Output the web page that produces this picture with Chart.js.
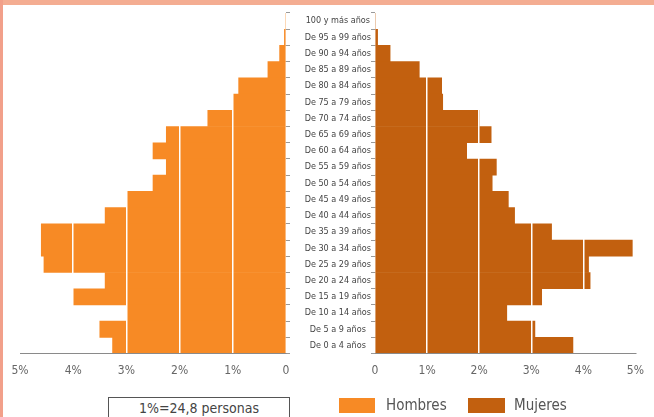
<!DOCTYPE html>
<html lang="es">
<head>
<meta charset="utf-8">
<title>Pirámide de población</title>
<script src="https://cdn.jsdelivr.net/npm/chart.js@4/dist/chart.umd.min.js"></script>
<style>
    body { margin: 0; width: 654px; height: 417px; background: #fff; position: relative; overflow: hidden; font-family: 'Liberation Sans Narrow', 'DejaVu Sans Condensed', sans-serif; }
    .franja-sup { position: absolute; left: 0; top: 0; width: 654px; height: 5px; background: #f4ad92; }
    .franja-izq { position: absolute; left: 0; top: 0; width: 3px; height: 417px; background: #f2a08a; }
    #hombres { position: absolute; left: 0; top: 0; }
    #mujeres { position: absolute; left: 285px; top: 0; }
    .escala { position: absolute; left: 108px; top: 397px; width: 182px; height: 24px; border: 1px solid #555; box-sizing: border-box; text-align: center; font-size: 14px; line-height: 20px; color: #444; }
    .leyenda { position: absolute; top: 398px; height: 15px; }
    .texto { position: absolute; top: 397px; font-size: 15px; line-height: 16px; color: #555; }
</style>
</head>
<body>
<div class="franja-sup"></div>
<div class="franja-izq"></div>
<canvas id="hombres" width="290" height="388"></canvas>
<canvas id="mujeres" width="369" height="388"></canvas>
<div class="escala">1%=24,8 personas</div>
<div class="leyenda" style="left:339px;width:36px;background:#f78a25;"></div>
<div class="texto" style="left:386px;">Hombres</div>
<div class="leyenda" style="left:468px;width:37px;background:#c2600f;"></div>
<div class="texto" style="left:514px;">Mujeres</div>
<script>
// Grupos de edad, de arriba hacia abajo.
const EDADES = ['100 y más años', 'De 95 a 99 años', 'De 90 a 94 años', 'De 85 a 89 años', 'De 80 a 84 años',
    'De 75 a 79 años', 'De 70 a 74 años', 'De 65 a 69 años', 'De 60 a 64 años', 'De 55 a 59 años',
    'De 50 a 54 años', 'De 45 a 49 años', 'De 40 a 44 años', 'De 35 a 39 años', 'De 30 a 34 años',
    'De 25 a 29 años', 'De 20 a 24 años', 'De 15 a 19 años', 'De 10 a 14 años', 'De 5 a 9 años', 'De 0 a 4 años'];
// Porcentaje de hombres por grupo de edad.
const HOMBRES = [0, 0.03, 0.12, 0.34, 0.89, 1.0, 1.47, 2.25, 2.5, 2.25, 2.5, 3.0, 3.4, 4.6, 4.6, 4.55, 3.4, 4.0, 3.0, 3.5, 3.26];
// Porcentaje de mujeres por grupo de edad.
const MUJERES = [0, 0.05, 0.29, 0.85, 1.28, 1.3, 2.0, 2.23, 1.76, 2.33, 2.25, 2.56, 2.68, 3.39, 4.94, 4.1, 4.13, 3.2, 2.53, 3.07, 3.8];
// Marcas del eje de porcentajes.
const MARCAS = [0, 1, 2, 3, 4, 5];

const COLOR_HOMBRES = '#f78a25';
const COLOR_MUJERES = '#c2600f';
const FUENTE = "'Liberation Sans Narrow', 'DejaVu Sans Condensed', sans-serif";

document.addEventListener('DOMContentLoaded', () => {
    Chart.defaults.animation = false;
    Chart.defaults.font.family = FUENTE;
    graficoLado('hombres', HOMBRES, COLOR_HOMBRES, true);
    graficoLado('mujeres', MUJERES, COLOR_MUJERES, false);
});

// Opciones del eje de porcentajes (líneas blancas encima de las barras).
const ejePorcentaje = (invertido) => ({
    type: 'linear',
    min: 0,
    max: 5,
    reverse: invertido,
    afterBuildTicks: (scale) => { scale.ticks = MARCAS.map(v => ({ value: v })); },
    grid: {
        z: 1,
        drawTicks: false,
        lineWidth: 1.5,
        color: (ctx) => (ctx.tick && ctx.tick.value > 0 && ctx.tick.value < 5) ? '#ffffff' : 'rgba(0,0,0,0)'
    },
    border: { display: true, color: '#8a8a8a', width: 1, z: 2 },
    ticks: {
        padding: 10,
        color: '#666',
        font: { size: 12 },
        callback: (v) => v === 0 ? '0' : v + '%'
    }
});

// Función para dibujar una mitad de la pirámide.
const graficoLado = (id, valores, color, invertido) => {
    // En el lado de los hombres solo se dejan las marcas junto a la columna de edades.
    const ejeEdades = invertido ? {
        position: 'right',
        afterFit: (scale) => { scale.width = 4; },
        grid: { drawOnChartArea: false, tickLength: 4, color: '#999' },
        border: { display: false },
        ticks: { display: false }
    } : {
        position: 'left',
        afterFit: (scale) => { scale.width = 90; },
        grid: { drawOnChartArea: false, tickLength: 4, color: '#999' },
        border: { display: false },
        ticks: {
            autoSkip: false,
            crossAlign: 'center',
            padding: 0,
            color: '#444',
            font: { size: 9 }
        }
    };
    new Chart(document.getElementById(id), {
        type: 'bar',
        data: {
            labels: EDADES,
            datasets: [{
                label: invertido ? 'Hombres' : 'Mujeres',
                data: valores,
                backgroundColor: color,
                borderWidth: 0,
                barPercentage: 1,
                categoryPercentage: 1
            }]
        },
        options: {
            indexAxis: 'y',
            responsive: false,
            layout: { padding: invertido ? { left: 20, right: 0, top: 13 } : { left: 0, right: 9, top: 13 } },
            plugins: { legend: { display: false }, tooltip: { enabled: false } },
            scales: {
                x: ejePorcentaje(invertido),
                y: ejeEdades
            }
        }
    });
};
</script>
</body>
</html>
